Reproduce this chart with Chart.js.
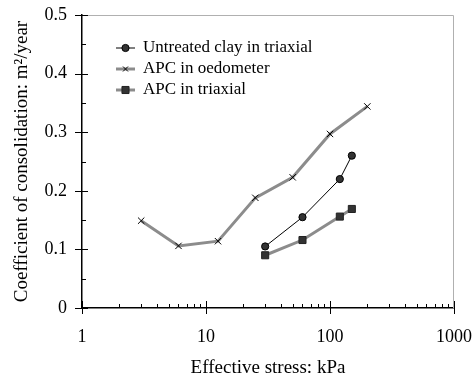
<!DOCTYPE html>
<html>
<head>
<meta charset="utf-8">
<script src="https://cdn.jsdelivr.net/npm/chart.js@4.4.0/dist/chart.umd.min.js"></script>
<style>
  body { margin: 0; background: #fff; }
  #wrap { width: 475px; height: 384px; }
</style>
</head>
<body>
<div id="wrap"><canvas id="myChart" width="475" height="384"></canvas></div>
<script>
// data
const untreatedX = [30, 60, 120, 150];
const untreatedY = [0.105, 0.155, 0.22, 0.26];
const oedoX = [3, 6, 12.5, 25, 50, 100, 200];
const oedoY = [0.149, 0.106, 0.114, 0.188, 0.223, 0.297, 0.344];
const apcTriX = [30, 60, 120, 150];
const apcTriY = [0.09, 0.116, 0.156, 0.169];
const xTicks = [1, 10, 100, 1000];
const labels = ["Untreated clay in triaxial", "APC in oedometer", "APC in triaxial"];

const FONT = "'Liberation Serif', 'Times New Roman', serif";

function Points(xs, ys) {
  let ans = [];
  for (let i = 0; i < xs.length; i++) {
    ans.push({ x: xs[i], y: ys[i] });
  }
  return ans;
}

// tick marks crossing the axes, minor ticks and the grey frame
const tickPlugin = {
  id: "tickmarks",
  afterDatasetsDraw(chart) {
    const ctx = chart.ctx;
    const xs = chart.scales.x;
    const ys = chart.scales.y;
    const a = chart.chartArea;
    ctx.save();
    ctx.strokeStyle = "#b0b0b0";
    ctx.lineWidth = 1;
    ctx.beginPath();
    ctx.moveTo(a.left, a.top + 0.5);
    ctx.lineTo(a.right - 0.5, a.top + 0.5);
    ctx.lineTo(a.right - 0.5, a.bottom);
    ctx.stroke();
    ctx.strokeStyle = "#000";
    ctx.lineWidth = 1;
    ctx.beginPath();
    for (let i = 0; i <= 10; i++) {
      const v = i * 0.05;
      const py = Math.round(ys.getPixelForValue(v)) + 0.5;
      const major = i % 2 === 0;
      ctx.moveTo(major ? a.left - 7 : a.left, py);
      ctx.lineTo(a.left + (major ? 6 : 4), py);
    }
    for (let d = 1; d < 1000; d *= 10) {
      for (let k = 1; k <= 10; k++) {
        const px = Math.round(xs.getPixelForValue(d * k)) + 0.5;
        const major = k === 1 || k === 10;
        ctx.moveTo(px, major ? a.bottom + 6 : a.bottom);
        ctx.lineTo(px, a.bottom - (major ? 7 : 4));
      }
    }
    ctx.stroke();
    ctx.restore();
  }
};

// legend inside the plot, line + marker like the picture
const legendPlugin = {
  id: "innerLegend",
  afterDraw(chart) {
    const ctx = chart.ctx;
    const rowY = [48, 69, 90];
    ctx.save();
    chart.data.datasets.forEach((ds, i) => {
      const y = rowY[i];
      ctx.strokeStyle = ds.borderColor;
      ctx.lineWidth = ds.borderWidth;
      ctx.beginPath();
      ctx.moveTo(116, y);
      ctx.lineTo(135, y);
      ctx.stroke();
      ctx.fillStyle = ds.pointBackgroundColor;
      ctx.strokeStyle = ds.pointBorderColor;
      ctx.lineWidth = ds.pointBorderWidth;
      Chart.helpers.drawPoint(ctx, {
        pointStyle: ds.pointStyle,
        radius: ds.pointStyle === "crossRot" ? 3.5 : ds.pointRadius,
        borderWidth: ds.pointBorderWidth
      }, 125.5, y);
      ctx.fillStyle = "#000";
      ctx.font = "17px " + FONT;
      ctx.textBaseline = "middle";
      ctx.textAlign = "left";
      ctx.fillText(ds.label, 143, y);
    });
    ctx.restore();
  }
};

const data = {
  datasets: [
    {
      label: labels[0],
      data: Points(untreatedX, untreatedY),
      borderColor: "#000",
      borderWidth: 1,
      pointStyle: "circle",
      pointRadius: 3.6,
      pointBackgroundColor: "#333",
      pointBorderColor: "#000",
      pointBorderWidth: 1
    },
    {
      label: labels[1],
      data: Points(oedoX, oedoY),
      borderColor: "#8c8c8c",
      borderWidth: 3,
      pointStyle: "crossRot",
      pointRadius: 4.5,
      pointBackgroundColor: "#000",
      pointBorderColor: "#000",
      pointBorderWidth: 1
    },
    {
      label: labels[2],
      data: Points(apcTriX, apcTriY),
      borderColor: "#8c8c8c",
      borderWidth: 3,
      pointStyle: "rect",
      pointRadius: 5,
      pointBackgroundColor: "#333",
      pointBorderColor: "#222",
      pointBorderWidth: 1
    }
  ]
};

const config = {
  type: "line",
  data: data,
  options: {
    responsive: false,
    animation: false,
    events: [],
    layout: { padding: { top: 15, right: 21, left: 0, bottom: 0 } },
    plugins: { legend: { display: false }, tooltip: { enabled: false } },
    scales: {
      x: {
        type: "logarithmic",
        min: 1,
        max: 1000,
        afterBuildTicks: (s) => { s.ticks = xTicks.map((v) => ({ value: v })); },
        afterFit: (s) => { s.height = 76; s.paddingLeft = 0; s.paddingRight = 0; },
        grid: { display: false, drawTicks: false },
        border: { display: true, color: "#000", width: 1.5 },
        ticks: {
          color: "#000",
          font: { family: FONT, size: 18 },
          padding: 18,
          maxRotation: 0,
          autoSkip: false,
          callback: (v) => String(v)
        },
        title: {
          display: true,
          text: "Effective stress: kPa",
          color: "#000",
          font: { family: FONT, size: 19 },
          padding: { top: 0, bottom: 5 }
        }
      },
      y: {
        min: 0,
        max: 0.5,
        afterFit: (s) => { s.width = 82; s.paddingTop = 0; s.paddingBottom = 0; },
        grid: { display: false, drawTicks: false },
        border: { display: true, color: "#000", width: 1.5 },
        ticks: {
          stepSize: 0.1,
          color: "#000",
          font: { family: FONT, size: 18 },
          padding: 15,
          callback: (v) => String(Number(v.toFixed(1)))
        },
        title: {
          display: true,
          text: "Coefficient of consolidation: m²/year",
          color: "#000",
          font: { family: FONT, size: 19 },
          padding: { top: 11, bottom: 0 }
        }
      }
    }
  },
  plugins: [tickPlugin, legendPlugin]
};

new Chart(document.getElementById("myChart"), config);
</script>
</body>
</html>
